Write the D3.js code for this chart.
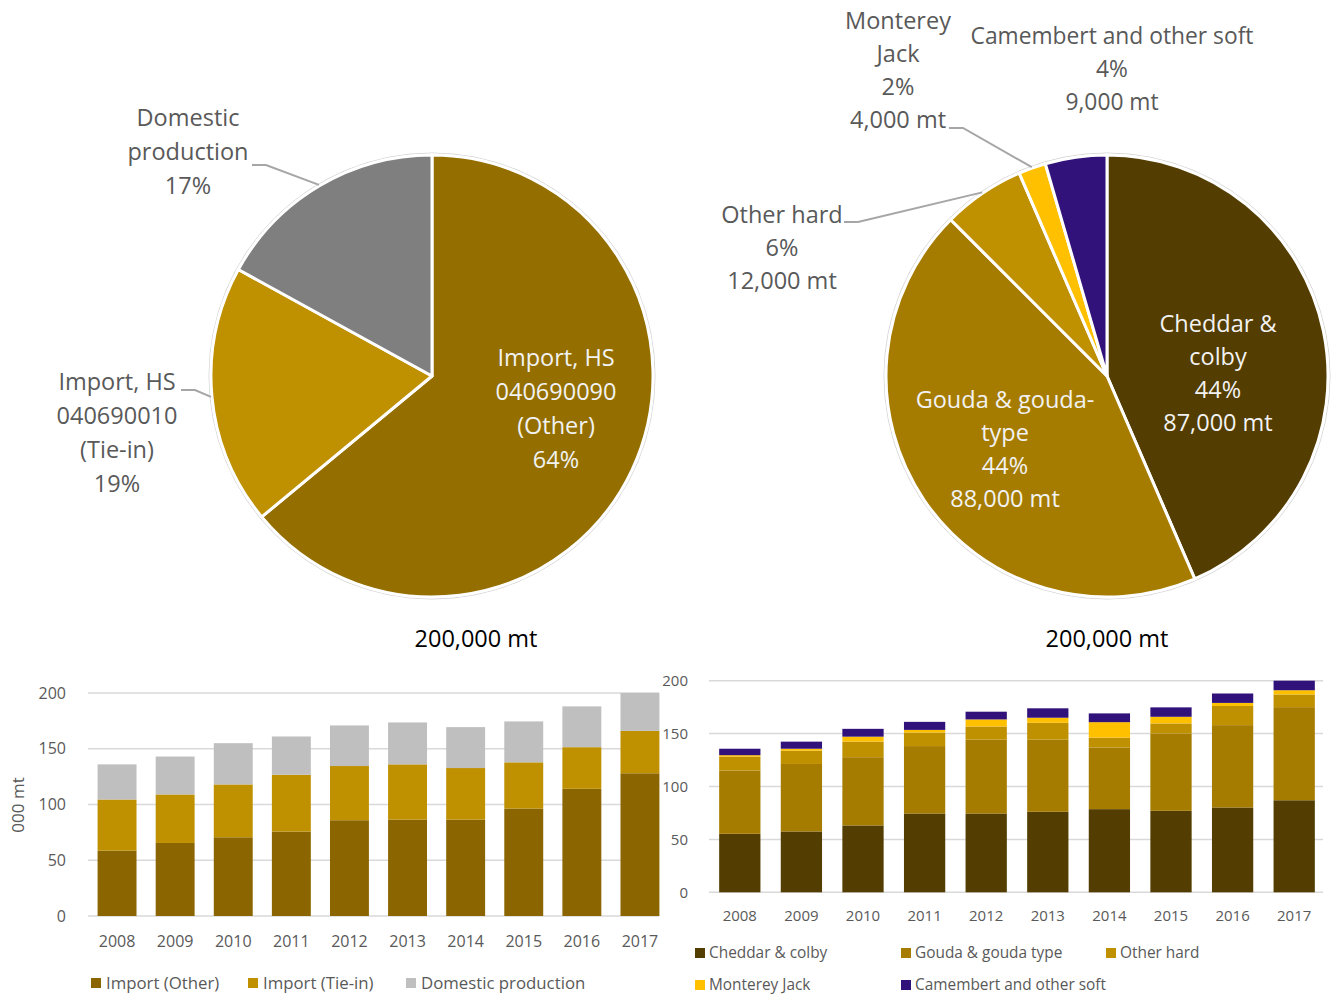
<!DOCTYPE html>
<html>
<head>
<meta charset="utf-8">
<script src="https://cdn.jsdelivr.net/npm/d3@7"></script>
<style>
  html, body { margin: 0; padding: 0; background: #fff; }
  svg { display: block; font-family: "Open Sans", "Noto Sans", sans-serif; }
</style>
</head>
<body>
<svg id="chart" width="1333" height="994"></svg>
<script>
// ---- Cheese supply by source (2017 share, 200,000 mt total) ----
const sourceNames = ["Import, HS 040690090 (Other)", "Import, HS 040690010 (Tie-in)", "Domestic production"];
const sourceShares = [64, 19, 17];
const sourceLabelLines = [
  ["Import, HS", "040690090", "(Other)", "64%"],
  ["Import, HS", "040690010", "(Tie-in)", "19%"],
  ["Domestic", "production", "17%"]
];

// ---- Cheese supply by type (2017, mt) ----
const typeNames = ["Cheddar & colby", "Gouda & gouda type", "Other hard", "Monterey Jack", "Camembert and other soft"];
const typeTonnes = [87000, 88000, 12000, 4000, 9000];
const typeLabelLines = [
  ["Cheddar &", "colby", "44%", "87,000 mt"],
  ["Gouda & gouda-", "type", "44%", "88,000 mt"],
  ["Other hard", "6%", "12,000 mt"],
  ["Monterey", "Jack", "2%", "4,000 mt"],
  ["Camembert and other soft", "4%", "9,000 mt"]
];
const pieTotalLabel = "200,000 mt";

// ---- Annual series, 000 mt ----
const years = ["2008", "2009", "2010", "2011", "2012", "2013", "2014", "2015", "2016", "2017"];
const sourceSeriesNames = ["Import (Other)", "Import (Tie-in)", "Domestic production"];
const importOther  = [58.6, 65.5, 70.6, 75.7, 85.9, 86.5, 86.5, 96.4, 114.1, 128];
const importTieIn  = [45.9, 43.5, 47.4, 51.0, 48.6, 49.5, 46.2, 41.4, 37.3, 38];
const domesticProd = [31.5, 34.0, 37.0, 34.3, 36.4, 37.6, 36.7, 36.7, 36.6, 34];

const cheddarColby = [55.3, 57.5, 63.2, 74.5, 74.5, 76.1, 78.6, 77.0, 80.2, 87];
const goudaType    = [59.7, 63.8, 64.5, 63.7, 69.8, 68.2, 58.3, 73.0, 77.8, 88];
const otherHard    = [13.3, 12.5, 14.7, 12.8, 12.4, 15.9, 9.3, 9.6, 18.1, 12];
const montereyJack = [1.3, 1.9, 4.7, 2.5, 6.7, 4.8, 14.6, 6.3, 2.9, 4];
const camembertSoft= [6.1, 6.7, 7.4, 7.6, 7.3, 8.9, 8.3, 8.9, 8.9, 9];

const yTicks = [0, 50, 100, 150, 200];
const yAxisTitle = "000 mt";

// ---- palettes ----
const sourcePieColors = ["#946f00", "#bf9000", "#7f7f7f"];
const sourceBarColors = ["#8b6500", "#bf9000", "#bfbfbf"];
const typeColors = ["#533d00", "#a67c00", "#bf9000", "#ffc000", "#31127a"];

const labelGray = "#595959";
const gridGray = "#d9d9d9";
const leaderGray = "#a6a6a6";

const svg = d3.select("#chart");

// ------------------------------------------------------------------
// Pie helper
// ------------------------------------------------------------------
function drawPie(opts) {
  const g = svg.append("g").attr("transform", `translate(${opts.cx},${opts.cy})`);
  const pie = d3.pie().sort(null).value(d => d.value);
  const arcs = pie(opts.data);
  const arc = d3.arc().innerRadius(0).outerRadius(opts.r);

  g.append("circle").attr("r", opts.r + 2).attr("fill", "none")
    .attr("stroke", "#d6d6d6").attr("stroke-width", 1);

  g.selectAll("path.slice").data(arcs).join("path")
    .attr("class", "slice")
    .attr("d", arc)
    .attr("fill", (d, i) => opts.colors[i])
    .attr("stroke", "#fff")
    .attr("stroke-width", 3)
    .attr("stroke-linejoin", "round");

  const lineH = opts.lineHeight;
  arcs.forEach((a, i) => {
    const L = opts.labels[i];
    const lines = opts.lines[i];
    const t = g.append("text")
      .attr("text-anchor", "middle")
      .attr("font-size", L.size || opts.fontSize)
      .attr("fill", L.inside ? "#f2f2f2" : labelGray);
    const top = L.y - (lines.length - 1) * lineH / 2;
    lines.forEach((s, k) => {
      t.append("tspan").attr("x", L.x).attr("y", top + k * lineH).attr("dy", "0.35em").text(s);
    });
    if (L.leader) {
      const mid = (a.startAngle + a.endAngle) / 2;
      const ex = Math.sin(mid) * (opts.r + 1);
      const ey = -Math.cos(mid) * (opts.r + 1);
      const [sx, sy] = L.leader;
      g.append("polyline")
        .attr("points", [[sx, sy], [sx + 14, sy], [ex, ey]].map(p => p.join(",")).join(" "))
        .attr("fill", "none")
        .attr("stroke", leaderGray)
        .attr("stroke-width", 2);
    }
  });

  svg.append("text")
    .attr("x", opts.totalX).attr("y", opts.totalY)
    .attr("text-anchor", "middle").attr("dy", "0.35em")
    .attr("font-size", 23.5).attr("fill", "#000")
    .text(pieTotalLabel);
}

drawPie({
  cx: 432, cy: 376, r: 221, totalX: 476, totalY: 639, fontSize: 23.5, lineHeight: 34,
  data: sourceShares.map((v, i) => ({ name: sourceNames[i], value: v })),
  colors: sourcePieColors,
  lines: sourceLabelLines,
  labels: [
    { x: 124, y: 33, inside: true },
    { x: -315, y: 57, leader: [-251, 14] },
    { x: -244, y: -224, leader: [-180, -211] }
  ]
});

drawPie({
  cx: 1107, cy: 376, r: 221, totalX: 1107, totalY: 639, fontSize: 23.5, lineHeight: 33,
  data: typeTonnes.map((v, i) => ({ name: typeNames[i], value: v })),
  colors: typeColors,
  lines: typeLabelLines,
  labels: [
    { x: 111, y: -3, inside: true },
    { x: -102, y: 73, inside: true },
    { x: -325, y: -128, leader: [-263, -154] },
    { x: -209, y: -306, leader: [-158, -248] },
    { x: 5, y: -307, size: 22.8 }
  ]
});

// ------------------------------------------------------------------
// Stacked bar helper
// ------------------------------------------------------------------
function drawStacked(opts) {
  const g = svg.append("g");
  const x = d3.scaleBand().domain(years).range(opts.xRange).paddingInner(0.33).paddingOuter(0.165);
  const y = d3.scaleLinear().domain([0, 200]).range(opts.yRange);

  g.selectAll("line.grid").data(yTicks).join("line")
    .attr("class", "grid")
    .attr("x1", opts.gridX[0]).attr("x2", opts.gridX[1])
    .attr("y1", d => y(d)).attr("y2", d => y(d))
    .attr("stroke", gridGray).attr("stroke-width", 1.5);

  const rows = years.map((yr, i) => {
    const o = { year: yr };
    opts.keys.forEach((k, j) => { o[k] = opts.series[j][i]; });
    return o;
  });
  const stacked = d3.stack().keys(opts.keys)(rows);

  g.selectAll("g.layer").data(stacked).join("g")
    .attr("class", "layer")
    .attr("fill", (d, i) => opts.colors[i])
    .selectAll("rect").data(d => d).join("rect")
    .attr("x", d => x(d.data.year))
    .attr("width", x.bandwidth())
    .attr("y", d => y(d[1]))
    .attr("height", d => y(d[0]) - y(d[1]));

  const yAxis = d3.axisLeft(y).tickValues(yTicks).tickSize(0).tickPadding(opts.yPad);
  g.append("g").attr("transform", `translate(${opts.gridX[0]},0)`).call(yAxis)
    .call(s => s.select(".domain").remove())
    .selectAll("text").attr("font-size", opts.fontSize).attr("fill", labelGray)
    .attr("font-family", "Open Sans, Noto Sans, sans-serif");

  const xAxis = d3.axisBottom(x).tickSize(0).tickPadding(opts.xPad);
  g.append("g").attr("transform", `translate(0,${opts.yRange[0]})`).call(xAxis)
    .call(s => s.select(".domain").remove())
    .selectAll("text").attr("font-size", opts.fontSize).attr("fill", labelGray)
    .attr("font-family", "Open Sans, Noto Sans, sans-serif");

  // legend
  opts.legend.forEach((it, i) => {
    const lg = g.append("g").attr("transform", `translate(${it.x},${it.y})`);
    lg.append("rect").attr("x", 0).attr("y", -5).attr("width", 10).attr("height", 10)
      .attr("fill", opts.colors[i]);
    lg.append("text").attr("x", opts.legendGap).attr("dy", "0.35em")
      .attr("font-size", opts.legendSize).attr("fill", labelGray).text(opts.keys[i]);
  });
  return g;
}

drawStacked({
  keys: sourceSeriesNames,
  series: [importOther, importTieIn, domesticProd],
  colors: sourceBarColors,
  xRange: [88, 669], yRange: [916, 693], gridX: [88, 659],
  yPad: 22, xPad: 20, fontSize: 16, legendSize: 16.8, legendGap: 15,
  legend: [{ x: 91, y: 983 }, { x: 248, y: 983 }, { x: 406, y: 983 }]
});

svg.append("text")
  .attr("transform", "translate(18,805) rotate(-90)")
  .attr("text-anchor", "middle").attr("dy", "0.35em")
  .attr("font-size", 17).attr("fill", labelGray)
  .text(yAxisTitle);

drawStacked({
  keys: typeNames,
  series: [cheddarColby, goudaType, otherHard, montereyJack, camembertSoft],
  colors: typeColors,
  xRange: [709, 1325], yRange: [892.3, 680.7], gridX: [709, 1323],
  yPad: 21, xPad: 18, fontSize: 15, legendSize: 15.4, legendGap: 14,
  legend: [{ x: 695, y: 953 }, { x: 901, y: 953 }, { x: 1106, y: 953 },
           { x: 695, y: 985 }, { x: 901, y: 985 }]
});
</script>
</body>
</html>
